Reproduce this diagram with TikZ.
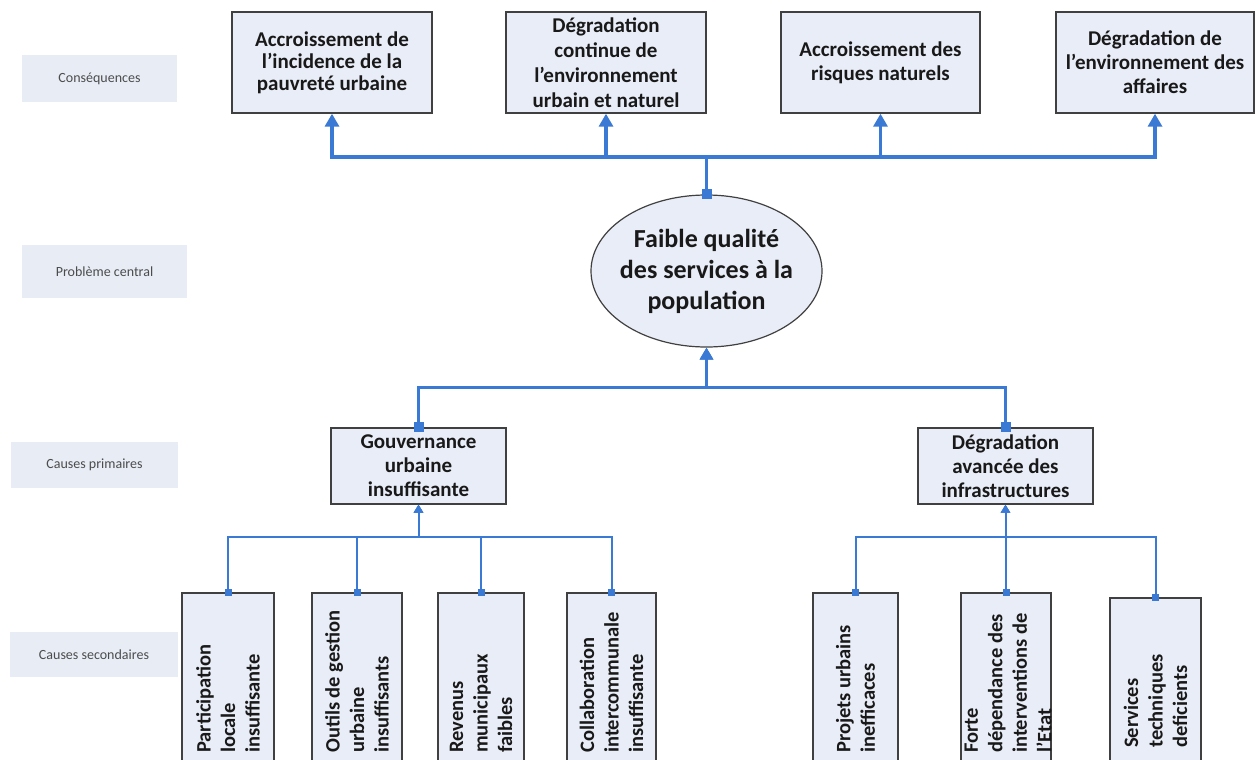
\documentclass[tikz,border=0pt]{standalone}
\usepackage{fontspec}
\setmainfont{Carlito}
\usetikzlibrary{arrows.meta,shapes.geometric}
\definecolor{lnblue}{RGB}{58,122,212}
\definecolor{boxfill}{RGB}{232,237,247}
\definecolor{lblfill}{RGB}{231,236,245}
\definecolor{bordergray}{RGB}{64,64,64}
\definecolor{txt}{RGB}{25,25,25}
\tikzset{
  cbox/.style={draw=bordergray, line width=1.4pt, fill=boxfill, align=center, inner sep=0pt,
    text=txt, font=\fontsize{21}{24}\selectfont\bfseries},
  sbox/.style={draw=bordergray, line width=1.4pt, fill=boxfill, inner sep=0pt},
  stext/.style={rotate=90, anchor=west, align=left, inner sep=0pt, text=txt,
    font=\fontsize{20.5}{24.5}\selectfont\bfseries},
  lbl/.style={fill=lblfill, inner sep=0pt, text=black!70, font=\fontsize{14}{16}\selectfont},
  topc/.style={draw=lnblue, line width=3.5pt, shorten <=-5pt,
    {Square[length=10pt,width=10pt]}-{Triangle[length=13pt,width=14pt]}},
  midc/.style={draw=lnblue, line width=3pt, shorten <=-5pt,
    {Square[length=10pt,width=10pt]}-{Triangle[length=12pt,width=13pt]}},
  secc/.style={draw=lnblue, line width=2pt, shorten <=-3.5pt,
    {Square[length=7pt,width=7pt]}-{Triangle[length=8pt,width=9pt]}},
}
\begin{document}
\begin{tikzpicture}[x=1pt,y=-1pt]
\path[use as bounding box] (0,0) rectangle (1256,760);
\clip (0,0) rectangle (1256,760);

% left labels
\node[lbl, minimum width=155pt, minimum height=47pt] (l1) at (99.5,78.5) {Conséquences};
\node[lbl, minimum width=165pt, minimum height=53pt] (l2) at (104.5,271.5) {Problème central};
\node[lbl, minimum width=167pt, minimum height=46pt] (l3) at (94.5,465) {Causes primaires};
\node[lbl, minimum width=168pt, minimum height=45pt] (l4) at (94,654.5) {Causes secondaires};

% consequences
\node[cbox, minimum width=200pt, minimum height=101pt, font=\fontsize{21}{22}\selectfont\bfseries] (c1) at (332,62.5) {Accroissement de\\l’incidence de la\\pauvreté urbaine};
\node[cbox, minimum width=200pt, minimum height=101pt, font=\fontsize{21}{25}\selectfont\bfseries] (c2) at (606,62.5) {Dégradation\\continue de\\l’environnement\\urbain et naturel};
\node[cbox, minimum width=199pt, minimum height=101pt] (c3) at (880.5,62.5) {Accroissement des\\risques naturels};
\node[cbox, minimum width=198pt, minimum height=101pt] (c4) at (1155,62.5) {Dégradation de\\l’environnement des\\affaires};

% central problem
\node[ellipse, draw=bordergray, line width=1.2pt, fill=boxfill, inner xsep=-20pt, inner ysep=-10pt,
  minimum width=231pt, minimum height=152pt, align=center, text=txt,
  font=\fontsize{26}{31}\selectfont\bfseries] (e) at (706.5,271)
  {Faible qualité\\des services à la\\population};

% primary causes
\node[cbox, minimum width=175pt, minimum height=76pt] (g) at (418.5,466) {Gouvernance\\urbaine\\insuffisante};
\node[cbox, minimum width=175pt, minimum height=76pt] (d) at (1005.5,466) {Dégradation\\avancée des\\infrastructures};

% secondary causes
\node[sbox, minimum width=92pt, minimum height=187pt] (s1) at (228,686.5) {};
\node[sbox, minimum width=90pt, minimum height=187pt] (s2) at (357,686.5) {};
\node[sbox, minimum width=86pt, minimum height=187pt] (s3) at (481,686.5) {};
\node[sbox, minimum width=89pt, minimum height=187pt] (s4) at (611.5,686.5) {};
\node[sbox, minimum width=85pt, minimum height=187pt] (s5) at (855.5,686.5) {};
\node[sbox, minimum width=90pt, minimum height=187pt] (s6) at (1006,686.5) {};
\node[sbox, minimum width=91pt, minimum height=182pt] (s7) at (1155.5,689) {};

\node[stext] (t1) at (228,753) {Participation\\locale\\insuffisante};
\node[stext] (t2) at (357,753) {Outils de gestion\\urbaine\\insuffisants};
\node[stext] (t3) at (481,753) {Revenus\\municipaux\\faibles};
\node[stext] (t4) at (611.5,753) {Collaboration\\intercommunale\\insuffisante};
\node[stext] (t5) at (855.5,753) {Projets urbains\\inefficaces};
\node[stext] (t6) at (1008,753) {Forte\\dépendance des\\interventions de\\l’Etat};
\node[stext] (t7) at (1155.5,748) {Services\\techniques\\deficients};

% connectors: problem -> consequences
\foreach \c in {c1,c2,c3,c4}
  \draw[topc] (e.north) -- (e.north |- 0,157) -| (\c.south);

% primary -> problem
\draw[midc] (g.north) -- (g.north |- 0,387) -| (e.south);
\draw[midc] (d.north) -- (d.north |- 0,387) -| (e.south);

% secondary -> primary
\foreach \s in {s1,s2,s3,s4}
  \draw[secc] (\s.north) -- (\s.north |- 0,537) -| (g.south);
\foreach \s in {s5,s6,s7}
  \draw[secc] (\s.north) -- (\s.north |- 0,537) -| (d.south);
\end{tikzpicture}
\end{document}
